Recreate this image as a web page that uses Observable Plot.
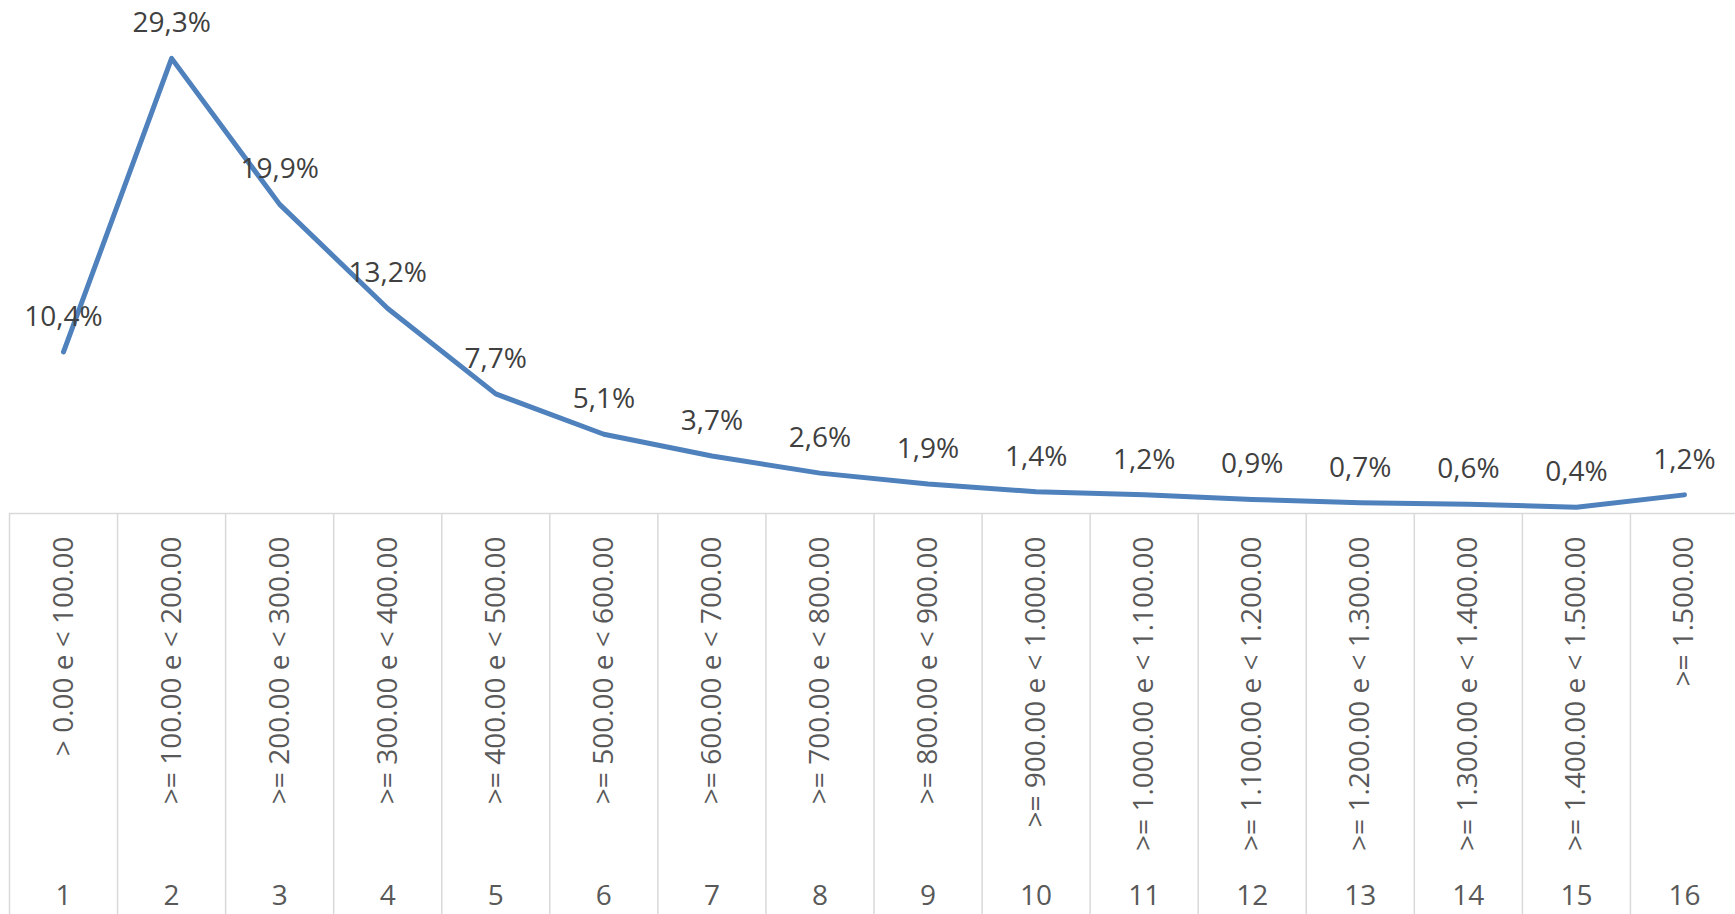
<!DOCTYPE html>
<html>
<head>
<meta charset="utf-8">
<script src="https://cdn.jsdelivr.net/npm/d3@7"></script>
<script src="https://cdn.jsdelivr.net/npm/@observablehq/plot@0.6"></script>
<style>
  html, body { margin: 0; padding: 0; background: #ffffff; }
  #chart svg { display: block; }
</style>
</head>
<body>
<div id="chart"></div>
<script>
// ---- Data ----
const categoryLabels = [
  "> 0.00 e < 100.00",
  ">= 100.00 e < 200.00",
  ">= 200.00 e < 300.00",
  ">= 300.00 e < 400.00",
  ">= 400.00 e < 500.00",
  ">= 500.00 e < 600.00",
  ">= 600.00 e < 700.00",
  ">= 700.00 e < 800.00",
  ">= 800.00 e < 900.00",
  ">= 900.00 e < 1.000.00",
  ">= 1.000.00 e < 1.100.00",
  ">= 1.100.00 e < 1.200.00",
  ">= 1.200.00 e < 1.300.00",
  ">= 1.300.00 e < 1.400.00",
  ">= 1.400.00 e < 1.500.00",
  ">= 1.500.00"
];
const categoryIndex = [1, 2, 3, 4, 5, 6, 7, 8, 9, 10, 11, 12, 13, 14, 15, 16];
const percentValues = [10.4, 29.3, 19.9, 13.2, 7.7, 5.1, 3.7, 2.6, 1.9, 1.4, 1.2, 0.9, 0.7, 0.6, 0.4, 1.2];

const rows = categoryIndex.map((idx, i) => ({idx, label: categoryLabels[i], value: percentValues[i]}));
const separators = categoryIndex.map(d => d - 0.5);
const fmtPct = v => v.toFixed(1).replace(".", ",") + "%";

const W = 1735, H = 914;
const lineColor = "#4F81BD";
const gridColor = "#D9D9D9";

const chart = Plot.plot({
  width: W,
  height: H,
  marginLeft: 9,
  marginRight: 0,
  marginTop: 47,
  marginBottom: 401,
  style: {fontFamily: "'Open Sans', 'Noto Sans', sans-serif", fontSize: "28px", background: "#ffffff"},
  x: {type: "linear", domain: [0.5, 16.5], range: [9, 1738], axis: null, label: null},
  y: {domain: [0, 30], axis: null, label: null},
  marks: [
    // category separators (multi-level axis grid)
    Plot.axisX({ticks: separators, tickSize: 401, tickFormat: () => "", label: null, stroke: gridColor, strokeWidth: 1.5, strokeOpacity: 1}),
    // horizontal axis line
    Plot.ruleY([0], {stroke: gridColor, strokeWidth: 1.5}),
    // rotated range labels
    Plot.axisX({
      ticks: categoryIndex,
      tickFormat: d => categoryLabels[d - 1],
      label: null,
      tickSize: 0,
      tickPadding: 23,
      tickRotate: -90,
      textAnchor: "end",
      lineAnchor: "middle",
      fill: "#595959",
      fontSize: 28
    }),
    // index numbers row
    Plot.axisX({
      ticks: categoryIndex,
      tickFormat: d => String(d),
      label: null,
      tickSize: 0,
      tickPadding: 383,
      lineAnchor: "middle",
      fill: "#595959",
      fontSize: 28
    }),
    // data line
    Plot.line(rows, {x: "idx", y: "value", stroke: lineColor, strokeWidth: 5, strokeLinecap: "round", strokeLinejoin: "round"}),
    // data labels
    Plot.text(rows, {x: "idx", y: "value", text: d => fmtPct(d.value), dy: -35, lineAnchor: "middle", fill: "#404040", fontSize: 28})
  ]
});
document.getElementById("chart").appendChild(chart);
</script>
</body>
</html>
